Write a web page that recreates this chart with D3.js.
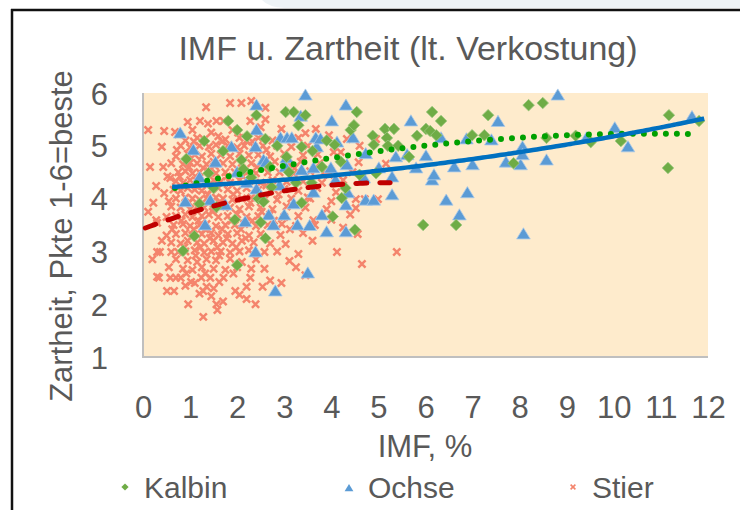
<!DOCTYPE html>
<html>
<head>
<meta charset="utf-8">
<script src="https://cdn.jsdelivr.net/npm/d3@7"></script>
<style>
  body { margin: 0; background: #fff; }
  text { font-family: "Liberation Sans", Arial, sans-serif; fill: #595959; }
</style>
</head>
<body>
<div id="chart"></div>
<script>
// values: [IMF %, Zartheit]
const kalbin = [
  [0.85,3.01],[0.92,4.75],[1.09,3.29],[1.2,3.9],[1.30,5.09],[1.39,4.48],[1.5,4.2],[1.56,3.84],
  [1.7,4.9],[1.81,5.47],[1.95,3.6],[2.0,5.3],[2.00,2.74],[2.09,4.73],[2.13,4.56],[2.21,5.18],
  [2.3,4.4],[2.41,5.58],[2.45,4.0],[2.5,3.55],[2.56,3.94],[2.60,3.25],[2.60,5.13],[2.7,4.6],
  [2.73,4.22],[2.85,5.0],[3.03,5.64],[3.05,4.79],[3.1,4.5],[3.20,5.64],[3.25,4.3],[3.30,5.39],
  [3.37,4.98],[3.37,3.92],[3.45,5.58],[3.58,4.30],[3.6,4.9],[3.8,4.6],[3.9,5.1],[4.03,3.66],
  [4.07,5.02],[4.2,4.7],[4.22,4.01],[4.3,4.2],[4.41,5.30],[4.48,5.39],[4.50,3.41],[4.54,5.64],
  [4.6,4.45],[4.88,5.19],[4.90,5.02],[4.95,4.48],[5.14,5.32],[5.18,5.15],[5.20,5.00],[5.33,5.32],
  [5.42,5.00],[5.65,4.79],[5.82,5.19],[5.95,3.50],[6.01,5.32],[6.10,5.28],[6.14,5.64],[6.23,5.20],
  [6.33,5.47],[6.65,3.50],[6.99,5.20],[7.25,5.20],[7.33,5.58],[7.87,4.67],[8.19,5.77],[8.49,5.81],
  [8.57,5.15],[9.19,5.19],[9.51,5.07],[10.15,5.09],[11.15,4.58],[11.17,5.58],[11.81,5.47]
];

const ochse = [
  [0.79,5.24],[0.90,3.94],[1.07,4.92],[1.2,4.4],[1.32,3.50],[1.43,3.97],[1.54,4.69],[1.75,3.88],
  [1.88,4.98],[2.0,4.5],[2.17,3.56],[2.2,4.3],[2.39,2.99],[2.39,4.98],[2.41,5.77],[2.41,5.30],
  [2.41,4.18],[2.5,4.05],[2.56,4.73],[2.62,4.69],[2.67,3.69],[2.77,3.50],[2.81,2.25],[2.9,4.25],
  [2.92,5.15],[3.00,3.69],[3.03,4.60],[3.05,4.77],[3.06,5.15],[3.16,5.15],[3.2,3.9],[3.28,3.50],
  [3.35,5.56],[3.37,4.54],[3.45,5.96],[3.50,2.59],[3.54,3.49],[3.62,4.58],[3.62,4.12],[3.67,5.15],
  [3.69,4.98],[3.77,5.13],[3.80,3.69],[3.90,3.37],[3.99,4.58],[4.01,5.47],[4.09,4.35],[4.12,5.07],
  [4.31,5.77],[4.31,3.88],[4.31,3.37],[4.33,4.64],[4.35,4.11],[4.46,5.15],[4.69,4.39],[4.73,4.85],
  [4.73,3.97],[4.90,3.97],[5.01,4.58],[5.29,4.41],[5.29,4.07],[5.37,4.79],[5.61,4.83],[5.69,5.47],
  [5.80,4.58],[6.01,4.81],[6.14,4.35],[6.18,4.45],[6.33,5.15],[6.44,3.97],[6.61,4.60],[6.72,3.69],
  [6.87,5.13],[6.89,4.11],[7.00,4.64],[7.40,5.11],[7.54,5.46],[7.71,4.69],[8.02,4.64],[8.06,4.98],
  [8.06,4.83],[8.08,3.33],[8.57,4.73],[8.81,5.96],[9.42,5.15],[10.02,5.34],[10.30,4.98],[11.66,5.55]
];

const stier = [
  [1.85,5.81],[2.09,5.81],[2.3,5.85],[1.34,5.73],[2.6,5.72],
  [0.95,5.45],[1.21,5.47],[1.56,5.47],[1.71,5.47],[2.28,5.47],[2.6,5.5],
  [0.11,5.3],[0.45,5.28],[0.68,5.26],[0.75,5.22],[1.05,5.3],[1.45,5.25],[1.9,5.3],[2.5,5.35],[2.94,5.32],[3.45,5.24],[3.67,5.32],
  [0.9,5.1],[1.15,5.15],[1.3,5.12],[1.6,5.18],[1.75,5.12],[2.05,5.15],[2.2,5.1],[2.45,5.15],[2.75,5.1],[3.3,5.15],[3.95,5.2],[4.33,5.13],[4.95,5.13],
  [0.40,4.98],[0.8,5.0],[1.0,4.97],[1.2,5.0],[1.4,4.98],[1.55,5.02],[1.8,5.0],[2.0,4.97],[2.15,5.0],[2.35,4.98],[2.55,5.0],[2.85,5.0],[3.15,4.98],[3.5,5.0],[4.6,5.0],
  [0.7,4.8],[0.95,4.85],[1.1,4.83],[1.25,4.8],[1.45,4.85],[1.65,4.83],[1.85,4.8],[2.05,4.85],[2.25,4.82],[2.45,4.83],[2.7,4.8],[3.0,4.85],[3.4,4.82],[3.71,4.84],[4.05,4.88],[4.2,4.88],
  [0.43,4.6],[0.6,4.67],[0.85,4.65],[1.0,4.68],[1.15,4.67],[1.35,4.65],[1.5,4.7],[1.7,4.67],[1.9,4.65],[2.1,4.68],[2.3,4.67],[2.55,4.65],[2.8,4.7],[3.1,4.65],[3.35,4.7],[3.75,4.67],[4.58,4.69],[5.16,4.66],
  [0.58,4.39],[0.75,4.5],[0.9,4.52],[1.05,4.48],[1.2,4.5],[1.4,4.52],[1.55,4.48],[1.75,4.5],[1.95,4.5],[2.15,4.52],[2.4,4.48],[2.65,4.5],[2.9,4.5],[3.2,4.48],[3.55,4.52],[3.95,4.45],[4.45,4.5],
  [0.28,4.24],[0.7,4.33],[0.85,4.3],[1.0,4.35],[1.15,4.33],[1.3,4.3],[1.5,4.35],[1.65,4.33],[1.85,4.3],[2.05,4.35],[2.25,4.33],[2.5,4.3],[2.75,4.35],[3.05,4.32],[3.4,4.33],[3.8,4.3],[4.25,4.35],
  [0.45,4.1],[0.65,4.17],[0.8,4.15],[0.95,4.2],[1.1,4.17],[1.25,4.15],[1.45,4.17],[1.6,4.2],[1.8,4.17],[2.0,4.15],[2.2,4.2],[2.45,4.17],[2.7,4.15],[3.0,4.18],[3.3,4.15],[3.7,4.2],[4.1,4.12],
  [0.55,3.95],[0.7,4.0],[0.9,4.02],[1.05,4.0],[1.2,3.98],[1.35,4.0],[1.55,4.02],[1.7,4.0],[1.9,3.98],[2.1,4.0],[2.3,4.02],[2.6,4.0],[2.85,3.98],[3.15,4.0],[3.5,4.02],[4.0,3.95],[4.52,3.99],[4.71,3.99],[4.99,3.99],
  [0.11,3.75],[0.6,3.85],[0.8,3.83],[1.0,3.8],[1.15,3.85],[1.3,3.83],[1.5,3.8],[1.65,3.85],[1.85,3.83],[2.05,3.8],[2.25,3.85],[2.5,3.83],[2.75,3.8],[3.05,3.85],[3.45,3.83],[3.9,3.8],[4.52,3.82],
  [0.28,3.59],[0.5,3.65],[0.7,3.67],[0.9,3.7],[1.05,3.65],[1.25,3.67],[1.4,3.7],[1.6,3.65],[1.8,3.67],[2.0,3.7],[2.2,3.65],[2.45,3.67],[2.7,3.7],[3.0,3.65],[3.3,3.67],[3.62,3.59],[4.4,3.7],
  [0.30,3.54],[0.65,3.5],[0.85,3.52],[1.0,3.48],[1.2,3.5],[1.35,3.52],[1.55,3.48],[1.75,3.5],[1.95,3.5],[2.15,3.52],[2.4,3.48],[2.65,3.5],[2.95,3.52],[3.25,3.48],[3.65,3.5],[4.25,3.45],
  [0.5,3.3],[0.7,3.33],[0.9,3.35],[1.05,3.3],[1.25,3.33],[1.45,3.35],[1.6,3.3],[1.8,3.33],[2.0,3.35],[2.25,3.3],[2.5,3.33],[2.92,3.31],[3.4,3.35],[4.56,3.33],
  [0.4,3.2],[0.6,3.17],[0.8,3.15],[0.95,3.2],[1.15,3.17],[1.3,3.15],[1.5,3.2],[1.7,3.17],[1.9,3.15],[2.1,3.2],[2.35,3.17],[2.7,3.15],[3.03,3.14],[3.6,3.2],
  [0.30,2.99],[0.36,2.99],[0.6,2.99],[0.75,2.99],[0.9,3.0],[1.1,3.02],[1.3,2.98],[1.45,3.0],[1.65,3.0],[1.85,2.98],[2.05,3.0],[2.25,3.02],[2.58,2.99],[2.85,3.0],[3.3,2.95],[4.12,2.99],[5.39,2.99],
  [0.7,2.85],[0.95,2.83],[1.15,2.8],[1.35,2.85],[1.55,2.83],[1.85,2.86],[2.1,2.8],[2.4,2.85],[3.11,2.82],[4.65,2.76],
  [0.55,2.7],[0.85,2.67],[1.05,2.65],[1.25,2.7],[1.5,2.67],[1.75,2.65],[2.0,2.7],[2.3,2.67],[2.58,2.67],
  [0.30,2.52],[0.34,2.5],[0.58,2.5],[0.7,2.5],[0.8,2.5],[1.24,2.5],[1.43,2.5],[1.71,2.5],[2.28,2.5],[3.45,2.55],
  [0.9,2.35],[1.1,2.4],[1.35,2.33],[1.5,2.3],[2.20,2.33],[2.54,2.33],[2.94,2.4],
  [0.51,2.25],[0.66,2.25],[1.2,2.2],[1.28,2.25],[1.45,2.15],[1.96,2.25],[2.05,2.18],
  [0.96,2.0],[1.56,2.0],[1.7,2.05],[2.39,2.0],[1.58,1.89],[1.28,1.76],
  [0.78,4.42],[0.98,4.6],[1.12,4.25],[1.28,4.58],[1.38,4.08],[1.52,4.62],[1.62,3.92],[1.78,4.42],
  [1.92,4.08],[2.12,4.42],[2.28,3.92],[2.42,4.6],[2.62,4.25],[0.82,3.58],[0.98,3.92],[1.18,3.58],
  [1.32,3.42],[1.48,3.75],[1.68,3.42],[1.88,3.58],[2.08,3.42],[2.32,3.58],[2.52,3.75],[0.88,3.08],
  [1.08,3.42],[1.22,3.08],[1.42,3.25],[1.58,3.08],[1.78,3.25],[1.98,3.08],[2.18,3.25],[0.92,2.58],
  [1.12,2.92],[1.32,2.58],[1.62,2.92],[1.92,2.58],[1.02,2.42],[1.62,2.42],[0.72,4.92],[1.08,5.08],
  [1.38,5.42],[1.68,5.08],[2.02,5.25],[2.32,5.08],[2.62,4.92],[3.22,4.58],[2.88,4.08],[3.12,3.42],
  [2.78,3.58],[0.62,3.42],[0.52,4.42],[0.22,3.92],[0.15,4.6],[0.2,2.85],[3.55,4.0],[3.85,4.5],
  [4.0,3.6],[3.25,2.7],[2.7,2.45],[2.2,2.1]
];

// trend lines: polynomial coefficients [a, b, c] and x range
const kalbinTrend = [4.056, 0.2191, -0.01022];
const kalbinRange = [0.68, 11.73];
const ochseTrend = [4.1985, 0.0337, 0.00644];
const ochseRange = [0.62, 12];
const stierTrend = [3.426, 0.3386, -0.0328];
const stierRange = [0.05, 5.3];

const xTicks = [0,1,2,3,4,5,6,7,8,9,10,11,12];
const yTicks = [1,2,3,4,5,6];
const seriesNames = ["Kalbin", "Ochse", "Stier"];

const width = 740, height = 510;
const margin = {top: 93, right: 32, bottom: 153, left: 143};

const svg = d3.select("#chart")
    .append("svg")
    .attr("width", width)
    .attr("height", height);

// slide decoration at the top + frame
svg.append("path")
    .attr("d", "M262,0 L740,0 L740,8 L285,8 Q268,7 262,0 Z")
    .attr("fill", "#eef3f6");
svg.append("line")
    .attr("x1", 11).attr("x2", 740).attr("y1", 10).attr("y2", 10)
    .attr("stroke", "#111").attr("stroke-width", 2.5);
svg.append("line")
    .attr("x1", 12).attr("x2", 12).attr("y1", 9).attr("y2", height)
    .attr("stroke", "#111").attr("stroke-width", 2.5);

const x = d3.scaleLinear().domain([0, 12]).range([margin.left, width - margin.right]);
const y = d3.scaleLinear().domain([1, 6]).range([height - margin.bottom, margin.top]);

// plot background
svg.append("rect")
    .attr("x", x(0)).attr("y", y(6))
    .attr("width", x(12) - x(0)).attr("height", y(1) - y(6))
    .attr("fill", "#feebcc");

// axes
const xAxis = svg.append("g")
    .attr("transform", `translate(0,${y(1)})`)
    .call(d3.axisBottom(x).tickValues(xTicks).tickSize(0).tickFormat(d3.format("d")));
xAxis.selectAll("text").attr("y", 61).attr("dy", 0)
    .attr("font-size", "31px").attr("fill", "#595959");

const yAxis = svg.append("g")
    .attr("transform", `translate(${x(0)},0)`)
    .call(d3.axisLeft(y).tickValues(yTicks).tickSize(0).tickFormat(d3.format("d")));
yAxis.selectAll("text").attr("x", -35).attr("dy", "0.36em")
    .attr("font-size", "31px").attr("fill", "#595959");

yAxis.select(".domain").remove();
xAxis.select(".domain").remove();
svg.append("line")
    .attr("x1", x(0)).attr("x2", x(0)).attr("y1", y(6)).attr("y2", y(1) + 1)
    .attr("stroke", "#bfbfbf").attr("stroke-width", 2);
svg.append("line")
    .attr("x1", x(0) - 1).attr("x2", x(12)).attr("y1", y(1)).attr("y2", y(1))
    .attr("stroke", "#bfbfbf").attr("stroke-width", 2);

// markers
const diamond = (s) => `M0,${-s}L${s},0L0,${s}L${-s},0Z`;
const triangle = (s) => `M0,${-s}L${s * 1.1},${s * 0.8}L${-s * 1.1},${s * 0.8}Z`;
const cross = (s) => `M${-s},${-s}L${s},${s}M${-s},${s}L${s},${-s}`;

svg.append("g").selectAll("path")
    .data(stier)
    .enter()
    .append("path")
        .attr("transform", (d) => `translate(${x(d[0])},${y(d[1])})`)
        .attr("d", cross(3.6))
        .attr("fill", "none")
        .attr("stroke", "#f4846c")
        .attr("stroke-width", 2.5);

svg.append("g").selectAll("path")
    .data(ochse)
    .enter()
    .append("path")
        .attr("transform", (d) => `translate(${x(d[0])},${y(d[1])})`)
        .attr("d", triangle(6.2))
        .attr("fill", "#5b9bd5")
        .attr("stroke", "#a9c9e8")
        .attr("stroke-width", 0.8);

svg.append("g").selectAll("path")
    .data(kalbin)
    .enter()
    .append("path")
        .attr("transform", (d) => `translate(${x(d[0])},${y(d[1])})`)
        .attr("d", diamond(5.8))
        .attr("fill", "#6fac46")
        .attr("stroke", "#9cc880")
        .attr("stroke-width", 0.8);

// trend lines
const poly = (c) => (v) => c[0] + c[1] * v + c[2] * v * v;
const trendLine = d3.line().x((d) => x(d[0])).y((d) => y(d[1])).curve(d3.curveBasis);
const trendPts = (c, r) => d3.range(r[0], r[1] + 0.001, 0.1).map((v) => [v, poly(c)(v)]);

svg.append("path")
    .attr("d", trendLine(trendPts(kalbinTrend, kalbinRange)))
    .attr("fill", "none")
    .attr("stroke", "#00a000")
    .attr("stroke-width", 6)
    .attr("stroke-linecap", "round")
    .attr("stroke-dasharray", "0 11");

svg.append("path")
    .attr("d", trendLine(trendPts(ochseTrend, ochseRange)))
    .attr("fill", "none")
    .attr("stroke", "#0070c0")
    .attr("stroke-width", 4.5);

svg.append("path")
    .attr("d", trendLine(trendPts(stierTrend, stierRange)))
    .attr("fill", "none")
    .attr("stroke", "#c00000")
    .attr("stroke-width", 5)
    .attr("stroke-linecap", "round")
    .attr("stroke-dasharray", "11 13");

// title and axis labels
svg.append("text")
    .attr("x", 408).attr("y", 60)
    .attr("text-anchor", "middle")
    .attr("font-size", "34px")
    .text("IMF u. Zartheit (lt. Verkostung)");

svg.append("text")
    .attr("x", 425).attr("y", 457)
    .attr("text-anchor", "middle")
    .attr("font-size", "31px")
    .text("IMF, %");

svg.append("text")
    .attr("transform", "translate(72,236) rotate(-90)")
    .attr("text-anchor", "middle")
    .attr("font-size", "31px")
    .text("Zartheit, Pkte 1-6=beste");

// legend
const legendX = [125, 349, 573];
const legend = svg.append("g");
legend.append("path")
    .attr("transform", `translate(${legendX[0]},487)`)
    .attr("d", diamond(3.6)).attr("fill", "#6fac46");
legend.append("path")
    .attr("transform", `translate(${legendX[1]},488)`)
    .attr("d", triangle(4)).attr("fill", "#5b9bd5");
legend.append("path")
    .attr("transform", `translate(${legendX[2]},487)`)
    .attr("d", cross(2.4)).attr("fill", "none")
    .attr("stroke", "#f4846c").attr("stroke-width", 1.6);
legend.selectAll("text")
    .data(seriesNames)
    .enter()
    .append("text")
        .attr("x", (d, i) => legendX[i] + 19)
        .attr("y", 498)
        .attr("font-size", "30px")
        .text((d) => d);
</script>
</body>
</html>
